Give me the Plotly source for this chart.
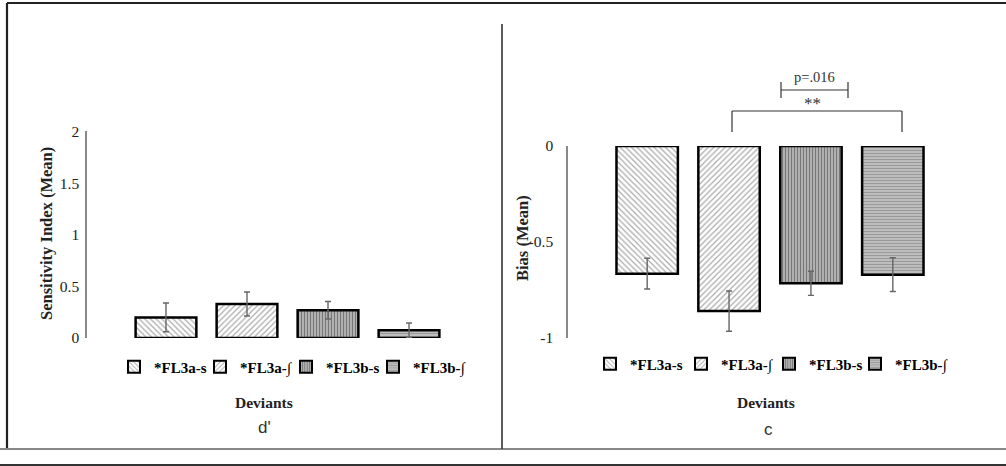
import plotly.graph_objects as go

# ---------------- data ----------------
categories = ["*FL3a-s", "*FL3a-\u222b", "*FL3b-s", "*FL3b-\u222b"]
dprime_mean = [0.20, 0.33, 0.27, 0.075]
dprime_err = [0.14, 0.117, 0.085, 0.07]
bias_mean = [-0.665, -0.86, -0.715, -0.67]
bias_err = [0.08, 0.105, 0.063, 0.088]
dprime_ticks = [0, 0.5, 1, 1.5, 2]
dprime_ticklabels = ["0", "0.5", "1", "1.5", "2"]
bias_ticks = [-1, -0.5, 0]
bias_ticklabels = ["-1", "-0.5", "0"]

# ---------------- styling ----------------
W, H = 1006, 466
def X(px):
    return px / W
def Y(py):
    return 1 - py / H

patterns = [
    dict(shape="\\", size=4, solidity=0.3, fgcolor="#555555", bgcolor="white"),
    dict(shape="/", size=4, solidity=0.3, fgcolor="#555555", bgcolor="white"),
    dict(shape="|", size=3, solidity=0.45, fgcolor="#333333", bgcolor="#bbbbbb"),
    dict(shape="-", size=3, solidity=0.6, fgcolor="#606060", bgcolor="#d4d4d4"),
]
SERIF = "Liberation Serif"
err_style = dict(type="data", color="#666666", thickness=1.4, width=3)

# legend text start positions (px) for each item, per panel
left_leg_text_x = [154, 240, 326, 413]
right_leg_text_x = [630, 721, 809, 895]
LEFT_LEG_Y, RIGHT_LEG_Y = 367, 364

fig = go.Figure()

for i, cat in enumerate(categories):
    fig.add_trace(go.Bar(
        x=[i], y=[dprime_mean[i]], name=cat, width=0.75,
        error_y=dict(array=[dprime_err[i]], **err_style),
        marker=dict(color="white", pattern=patterns[i],
                    line=dict(color="black", width=2.5)),
        xaxis="x", yaxis="y", legend="legend" if i == 0 else f"legend{i+1}",
    ))
for i, cat in enumerate(categories):
    fig.add_trace(go.Bar(
        x=[i], y=[bias_mean[i]], name=cat, width=0.75,
        error_y=dict(array=[bias_err[i]], **err_style),
        marker=dict(color="white", pattern=patterns[i],
                    line=dict(color="black", width=2.5)),
        xaxis="x2", yaxis="y2", legend=f"legend{i+5}",
    ))

legfont = dict(family=SERIF, size=15, color="black", weight="bold")
def leg(xpx, ypx):
    return dict(orientation="h", x=X(xpx - 40), xanchor="left", y=Y(ypx),
                yanchor="middle", font=legfont, itemsizing="constant",
                bgcolor="rgba(0,0,0,0)", borderwidth=0)

legends = {}
for i in range(4):
    key = "legend" if i == 0 else f"legend{i+1}"
    legends[key] = leg(left_leg_text_x[i], LEFT_LEG_Y)
    legends[f"legend{i+5}"] = leg(right_leg_text_x[i], RIGHT_LEG_Y)

tickfont = dict(family=SERIF, size=15.5, color="#222222")
fig.update_layout(
    width=W, height=H, autosize=False,
    margin=dict(l=0, r=0, t=0, b=0, pad=0, autoexpand=False),
    paper_bgcolor="white", plot_bgcolor="white",
    barmode="overlay", showlegend=True,
    xaxis=dict(domain=[X(87), X(488)], range=[-0.975, 3.975],
               showticklabels=False, showgrid=False, zeroline=False,
               showline=False, ticks="", automargin=False),
    yaxis=dict(domain=[Y(338), Y(131)], range=[0, 2.01],
               tickvals=dprime_ticks, ticktext=dprime_ticklabels,
               showgrid=False, zeroline=False, showline=True,
               linecolor="#888888", linewidth=1.5, ticks="",
               tickfont=tickfont, ticklabelstandoff=3, automargin=False),
    xaxis2=dict(domain=[X(568), X(972)], range=[-0.967, 3.967],
                showticklabels=False, showgrid=False, zeroline=False,
                showline=False, ticks="", automargin=False),
    yaxis2=dict(domain=[Y(338), Y(146)], range=[-1, 0],
                tickvals=bias_ticks, ticktext=bias_ticklabels,
                showgrid=False, zeroline=False, showline=True,
                linecolor="#888888", linewidth=1.5, ticks="",
                tickfont=tickfont, ticklabelstandoff=10, anchor="x2",
                automargin=False),
    **legends,
)

annotations = [
    dict(text="<b>Sensitivity Index (Mean)</b>", x=X(46), y=Y(234), textangle=-90,
         font=dict(family=SERIF, size=16.5, color="#222222")),
    dict(text="<b>Bias (Mean)</b>", x=X(522), y=Y(238), textangle=-90,
         font=dict(family=SERIF, size=16.5, color="#222222")),
    dict(text="<b>Deviants</b>", x=X(264), y=Y(402),
         font=dict(family=SERIF, size=15.5, color="#222222")),
    dict(text="<b>Deviants</b>", x=X(766), y=Y(402),
         font=dict(family=SERIF, size=15.5, color="#222222")),
    dict(text="d'", x=X(264), y=Y(427),
         font=dict(family="Liberation Sans", size=17, color="#333333")),
    dict(text="c", x=X(768), y=Y(429),
         font=dict(family="Liberation Sans", size=17, color="#333333")),
    dict(text="p=.016", x=X(814), y=Y(77),
         font=dict(family=SERIF, size=14.5, color="#333333")),
    dict(text="**", x=X(812), y=Y(103),
         font=dict(family=SERIF, size=17, color="#333333")),
]
for a in annotations:
    a.update(xref="paper", yref="paper", showarrow=False,
             xanchor="center", yanchor="middle")
fig.update_layout(annotations=annotations)

def line(x0, y0, x1, y1, color="#333333", width=1.2):
    return dict(type="line", xref="paper", yref="paper",
                x0=X(x0), y0=Y(y0), x1=X(x1), y1=Y(y1),
                line=dict(color=color, width=width))

shapes = [
    # frame
    line(7, 3, 1006, 3, "#222222", 2.2),
    line(7, 3, 7, 449, "#222222", 2.2),
    line(0, 449, 1006, 449, "#888888", 2),
    line(0, 465, 1006, 465, "#333333", 2),
    # divider
    line(502, 24, 502, 449, "#333333", 1.6),
    # big bracket
    line(732, 111, 902, 111),
    line(732, 111, 732, 132),
    line(902, 111, 902, 132),
    # small bracket
    line(781, 90, 848, 90),
    line(781, 82, 781, 98),
    line(848, 82, 848, 98),
]
fig.update_layout(shapes=shapes)

fig.write_html("out.html", config={"displayModeBar": False},
               post_script="document.body.style.margin='0';")
